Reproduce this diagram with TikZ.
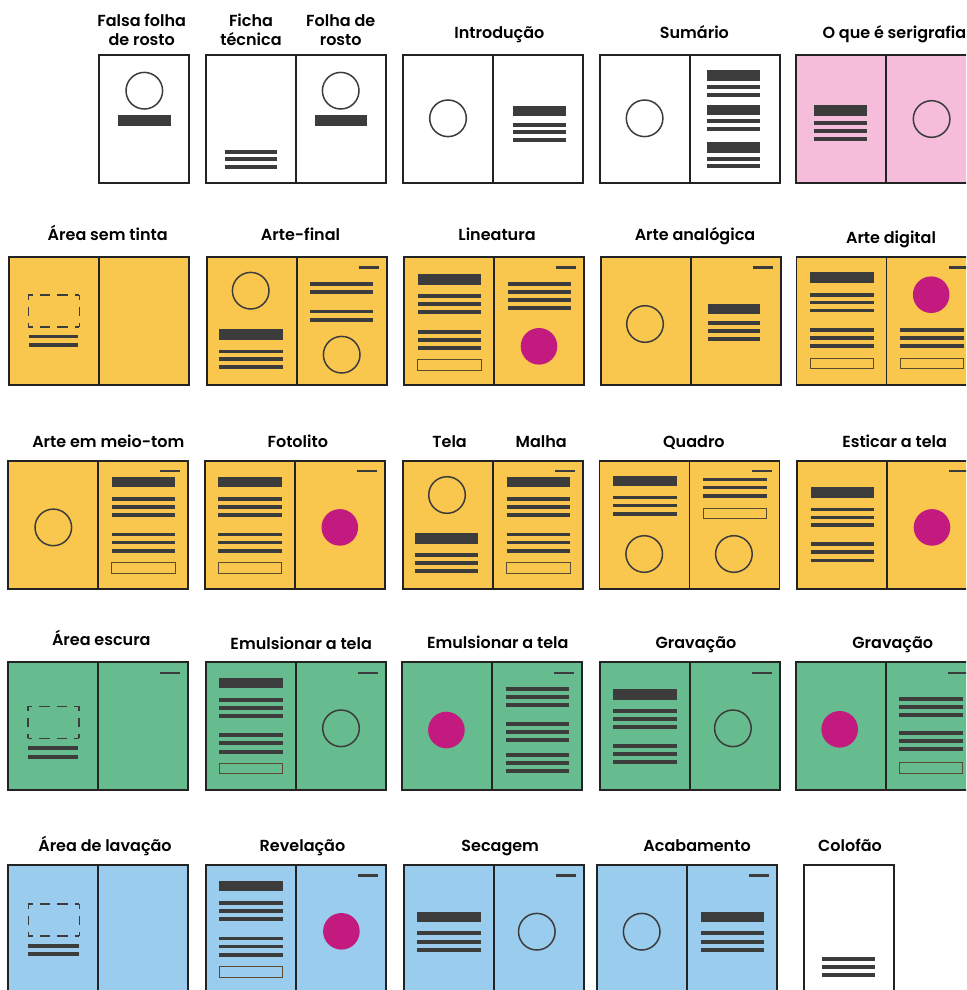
\documentclass[tikz,border=0pt]{standalone}
\usepackage{fontspec}
\newfontfamily\labfont{Poppins SemiBold}
\definecolor{ink}{HTML}{3C3C3C}
\definecolor{edge}{HTML}{232323}
\definecolor{amarelo}{HTML}{FAC74E}
\definecolor{verde}{HTML}{66BB8F}
\definecolor{azul}{HTML}{9ACCEE}
\definecolor{rosa}{HTML}{F5BDDA}
\definecolor{tinta}{HTML}{C21A7E}
\definecolor{contorno}{HTML}{5A4A30}

% page frames: single page and two-page spread (x, y of top-left corner, fill)
\newcommand\Single[3]{\fill[#3] (#1,#2) rectangle ++(90,128);
  \draw[pageedge] (#1,#2) rectangle ++(90,128);}
\newcommand\Spread[3]{\fill[#3] (#1,#2) rectangle ++(180,128);
  \draw[pageedge] (#1,#2) rectangle ++(180,128) (#1+90,#2) -- ++(0,128);}
% one page's content, placed at the page origin
\newcommand\Pg[3]{\begin{scope}[shift={(#1,#2)}]#3\end{scope}}
% page elements (coordinates relative to the page)
\newcommand\TL[3]{\draw[txtline] (#1,#3) -- (#2,#3);}
\newcommand\HB[3]{\fill[ink] (#1,#3) rectangle (#2,#3+10.6);}
\newcommand\OB[4]{\draw[outbox] (#1,#3) rectangle (#2,#4);}
\newcommand\HC[2]{\draw[ring] (#1,#2) circle[radius=18.3pt];}
\newcommand\MC[2]{\fill[tinta] (#1,#2) circle[radius=18.3pt];}
\newcommand\SL{\draw[shortline] (62,10.5) -- (82,10.5);}
% dashed placeholder frame, 51 x 32, top-left corner at (#1,#2):
% L-shaped corners, two dashes on the long sides, one on the short sides
\newcommand\DR[2]{\begin{scope}[shift={(#1,#2)}]
  \draw[dashbox,dash pattern=on 4.5pt off 7pt on 10.5pt off 7pt on 10.5pt off 7pt on 4.5pt off 60pt]
    (0,0) -- (51,0) (0,32) -- (51,32);
  \draw[dashbox,dash pattern=on 4.5pt off 7pt on 9pt off 7pt on 4.5pt off 60pt]
    (0,0) -- (0,32) (51,0) -- (51,32);
  \end{scope}}
% full-width column helpers
\newcommand\FTL[1]{\TL{13.5}{77}{#1}}
\newcommand\FHB[1]{\HB{13.5}{77}{#1}}
\newcommand\FOB[1]{\OB{13.5}{77}{#1}{#1+10.6}}
% heading, two groups of three lines and a box
\newcommand\Block[1]{\FHB{#1}\FTL{#1+22.3}\FTL{#1+30.2}\FTL{#1+38.2}
  \FTL{#1+57.7}\FTL{#1+65.7}\FTL{#1+74}\FOB{#1+85.7}}

\begin{document}
\begin{tikzpicture}[x=1pt,y=-1pt,
  pageedge/.style={draw=edge,line width=1.8pt},
  txtline/.style={draw=ink,line width=3.8pt},
  ring/.style={draw=ink,line width=1.5pt},
  outbox/.style={draw=contorno,line width=0.9pt},
  shortline/.style={draw=ink,line width=2.2pt},
  dashbox/.style={draw=ink,line width=1.6pt,line cap=square},
  lab/.style={font=\labfont\fontsize{16}{19}\selectfont,text=black,inner sep=0pt,anchor=base}]
\useasboundingbox (0,0) rectangle (966,990);
\fill[white] (0,0) rectangle (966,990);
\clip (0,0) rectangle (966,990);

%% ---------- row 1 ----------
\node[lab] (r1a) at (141.7,26.7) {Falsa folha};
\node[lab] (r1b) at (141.7,45.7) {de rosto};
\node[lab] (r1c) at (251,26.7) {Ficha};
\node[lab] (r1d) at (251,45.7) {técnica};
\node[lab] (r1e) at (340.7,26.7) {Folha de};
\node[lab] (r1f) at (340.7,45.7) {rosto};
\node[lab] (r1g) at (499.4,38.5) {Introdução};
\node[lab] (r1h) at (694.4,38.5) {Sumário};
\node[lab] (r1i) at (894.4,38.5) {O que é serigrafia};

\Single{99.3}{55}{white}
\Pg{99.3}{55}{\HC{45}{35.7}\HB{19}{71.5}{60}}
\Spread{206}{55}{white}
\Pg{206}{55}{\TL{18.5}{70.5}{96.7}\TL{18.5}{70.5}{104}\TL{18.5}{70.5}{111.7}}
\Pg{296}{55}{\HC{44.7}{35.7}\HB{18.7}{71}{60}}
\Spread{403}{55}{white}
\Pg{403}{55}{\HC{45}{63.3}}
\Pg{493}{55}{\HB{19.5}{72.5}{50.7}\TL{19.5}{72.5}{69.7}\TL{19.5}{72.5}{77.3}\TL{19.5}{72.5}{85.3}}
\Spread{599.6}{55}{white}
\Pg{599.6}{55}{\HC{45}{63.3}}
\Pg{689.6}{55}{\HB{17.3}{70}{15}\TL{17.3}{70}{32.3}\TL{17.3}{70}{40}
  \HB{17.3}{70}{49.7}\TL{17.3}{70}{66.3}\TL{17.3}{70}{74.3}
  \HB{17.3}{70}{87.3}\TL{17.3}{70}{103.7}\TL{17.3}{70}{110.7}}
\Spread{796.3}{55}{rosa}
\Pg{796.3}{55}{\HB{17.2}{70.2}{50}\TL{17.2}{70.2}{68.3}\TL{17.2}{70.2}{76.3}\TL{17.2}{70.2}{84.3}}
\Pg{886.3}{55}{\HC{45.3}{64}}

%% ---------- row 2 ----------
\node[lab] (r2a) at (107.7,240.7) {Área sem tinta};
\node[lab] (r2b) at (300.5,240.7) {Arte-final};
\node[lab] (r2c) at (497,240.7) {Lineatura};
\node[lab] (r2d) at (695,240.7) {Arte analógica};
\node[lab] (r2e) at (891,243.5) {Arte digital};

\Spread{9.3}{257}{amarelo}
\Pg{9.3}{257}{\DR{19}{38}\TL{20}{69}{79.5}\TL{20}{69}{87.7}}
\Spread{206.7}{257}{amarelo}
\Pg{206.7}{257}{\HC{44}{33.7}\HB{12.3}{76}{72}\TL{12.3}{76}{94.4}\TL{12.3}{76}{102}\TL{12.3}{76}{110}}
\Pg{296.7}{257}{\SL\TL{13.4}{76}{27}\TL{13.4}{76}{35}\TL{13.4}{76}{54.4}\TL{13.4}{76}{62.7}\HC{45}{97.7}}
\Spread{404}{257}{amarelo}
\Pg{404}{257}{\Block{17}}
\Pg{494}{257}{\SL\FTL{27}\FTL{35.3}\FTL{43.3}\FTL{51.3}\MC{45}{89.3}}
\Spread{601}{257}{amarelo}
\Pg{601}{257}{\HC{44}{67}}
\Pg{691}{257}{\SL\HB{16.6}{68.6}{46.7}\TL{16.6}{68.6}{65.7}\TL{16.6}{68.6}{73.7}\TL{16.6}{68.6}{81.7}}
\Spread{796.5}{257}{amarelo}
\Pg{796.5}{257}{\Block{15.3}}
\Pg{886.5}{257}{\SL\MC{44.7}{37.7}\FTL{72.7}\FTL{80.7}\FTL{88.7}\FOB{101}}

%% ---------- row 3 ----------
\node[lab] (r3a) at (108.3,447.7) {Arte em meio-tom};
\node[lab] (r3b) at (297.8,447.7) {Fotolito};
\node[lab] (r3c) at (449.6,447.7) {Tela};
\node[lab] (r3d) at (541.2,447.7) {Malha};
\node[lab] (r3e) at (693.9,447.7) {Quadro};
\node[lab] (r3f) at (894.6,447.7) {Esticar a tela};

\Spread{8.3}{460.7}{amarelo}
\Pg{8.3}{460.7}{\HC{45}{66.7}}
\Pg{98.3}{460.7}{\SL\Block{16}}
\Spread{204.8}{460.7}{amarelo}
\Pg{204.8}{460.7}{\Block{16}}
\Pg{294.8}{460.7}{\SL\MC{45}{66.7}}
\Spread{403}{460.7}{amarelo}
\Pg{403}{460.7}{\HC{44}{34.3}\HB{11.5}{74.7}{72.7}\TL{11.5}{74.7}{94.3}\TL{11.5}{74.7}{102.3}\TL{11.5}{74.7}{110.3}}
\Pg{493}{460.7}{\SL\Block{16}}
\Spread{599.5}{460.7}{amarelo}
\Pg{599.5}{460.7}{\FHB{15}\FTL{36.7}\FTL{44.7}\FTL{53}\HC{44.7}{93.3}}
\Pg{689.5}{460.7}{\SL\FTL{18.7}\FTL{26.7}\FTL{35}\OB{13.5}{77}{47.3}{58}\HC{44.4}{93.3}}
\Spread{797}{460.7}{amarelo}
\Pg{797}{460.7}{\FHB{26.3}\FTL{48.7}\FTL{56.7}\FTL{64.3}\FTL{83.3}\FTL{91.3}\FTL{99.7}}
\Pg{887}{460.7}{\SL\MC{45}{66.7}}

%% ---------- row 4 ----------
\node[lab] (r4a) at (101.3,645.7) {Área escura};
\node[lab] (r4b) at (301.2,649) {Emulsionar a tela};
\node[lab] (r4c) at (497.8,648.3) {Emulsionar a tela};
\node[lab] (r4d) at (696,648.3) {Gravação};
\node[lab] (r4e) at (892.8,648.3) {Gravação};

\Spread{8.3}{662.3}{verde}
\Pg{8.3}{662.3}{\DR{19.4}{44}\TL{19.4}{70}{86}\TL{19.4}{70}{94.3}}
\Pg{98.3}{662.3}{\SL}
\Spread{205.7}{662.3}{verde}
\Pg{205.7}{662.3}{\Block{15.3}}
\Pg{295.7}{662.3}{\SL\HC{45.3}{66}}
\Spread{402}{662.3}{verde}
\Pg{402}{662.3}{\MC{44.4}{67.7}}
\Pg{492}{662.3}{\SL\FTL{27}\FTL{35}\FTL{43}\FTL{61.3}\FTL{69.3}\FTL{77.3}\FTL{92.7}\FTL{100.7}\FTL{108.7}}
\Spread{599.6}{662.3}{verde}
\Pg{599.6}{662.3}{\FHB{26.7}\FTL{48.7}\FTL{56.7}\FTL{64.7}\FTL{84}\FTL{92}\FTL{100}}
\Pg{689.6}{662.3}{\SL\HC{43.3}{66}}
\Spread{795.7}{662.3}{verde}
\Pg{795.7}{662.3}{\MC{44}{67}}
\Pg{885.7}{662.3}{\SL\FTL{36.7}\FTL{44.7}\FTL{52.7}\FTL{70.3}\FTL{78.3}\FTL{86.7}\FOB{100.3}}

%% ---------- row 5 ----------
\node[lab] (r5a) at (105,851.7) {Área de lavação};
\node[lab] (r5b) at (302.5,851.7) {Revelação};
\node[lab] (r5c) at (500.2,851.7) {Secagem};
\node[lab] (r5d) at (697.1,851.7) {Acabamento};
\node[lab] (r5e) at (850,851.7) {Colofão};

\Spread{8.3}{865}{azul}
\Pg{8.3}{865}{\DR{20}{39}\TL{20}{70.7}{81}\TL{20}{70.7}{89}}
\Spread{205.7}{865}{azul}
\Pg{205.7}{865}{\Block{15.7}}
\Pg{295.7}{865}{\SL\MC{45.7}{66.3}}
\Spread{403.6}{865}{azul}
\Pg{403.6}{865}{\FHB{46.7}\FTL{68.3}\FTL{76.7}\FTL{85}}
\Pg{493.6}{865}{\SL\HC{43.2}{66.7}}
\Spread{597.1}{865}{azul}
\Pg{597.1}{865}{\HC{44.6}{66.7}}
\Pg{687.1}{865}{\SL\FHB{46.7}\FTL{68.3}\FTL{76.7}\FTL{85}}
\Single{803.6}{865}{white}
\Pg{803.6}{865}{\TL{18.8}{71.5}{94.3}\TL{18.8}{71.5}{102}\TL{18.8}{71.5}{110.3}}
\end{tikzpicture}
\end{document}
